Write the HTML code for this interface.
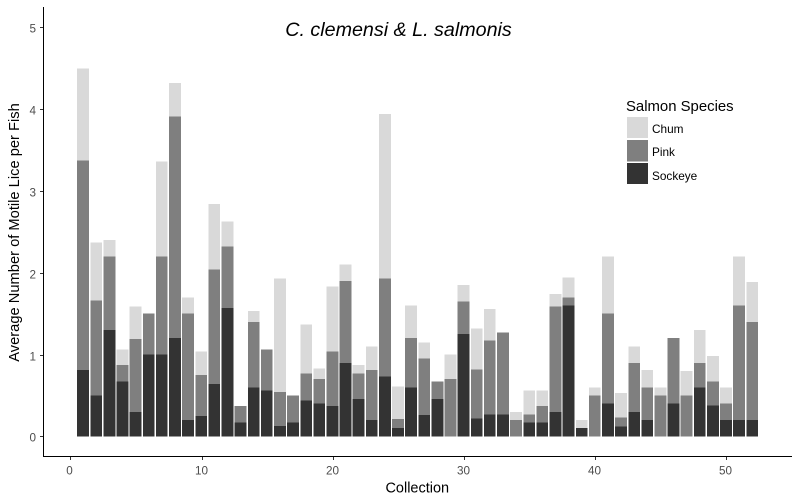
<!DOCTYPE html>
<html>
<head>
<meta charset="utf-8">
<style>
html,body{margin:0;padding:0;background:#fff}
svg{display:block;font-family:"Liberation Sans",Arial,sans-serif}
</style>
</head>
<body>
<svg id="chart" width="800" height="500" viewBox="0 0 800 500" xmlns="http://www.w3.org/2000/svg">
  <rect width="800" height="500" fill="#fff"/>
  <g id="bars" shape-rendering="crispEdges"></g>
  <g id="axes"></g>
  <text x="398.5" y="36" font-size="19.7" font-style="italic" text-anchor="middle" fill="#000">C. clemensi &amp; L. salmonis</text>
  <text x="417.3" y="492.7" font-size="14.5" text-anchor="middle" fill="#000">Collection</text>
  <text transform="translate(19,232.5) rotate(-90)" font-size="14.7" text-anchor="middle" fill="#000">Average Number of Motile Lice per Fish</text>
  <g>
    <text x="626" y="111" font-size="14.9" fill="#000">Salmon Species</text>
    <rect x="627" y="117" width="21" height="21" fill="#d9d9d9" shape-rendering="crispEdges"/>
    <text x="652" y="133" font-size="11.8" fill="#000">Chum</text>
    <rect x="627" y="140" width="21" height="21.5" fill="#7f7f7f" shape-rendering="crispEdges"/>
    <text x="652" y="156" font-size="11.8" fill="#000">Pink</text>
    <rect x="627" y="163" width="21" height="21" fill="#333333" shape-rendering="crispEdges"/>
    <text x="652" y="180" font-size="11.8" fill="#000">Sockeye</text>
  </g>
</svg>
<script>
const sockeye = [0.81,0.5,1.3,0.67,0.3,1,1,1.2,0.2,0.25,0.64,1.57,0.17,0.6,0.56,0.13,0.17,0.44,0.4,0.37,0.9,0.46,0.2,0.73,0.1,0.6,0.26,0.46,0,1.25,0.22,0.27,0.27,0,0.17,0.17,0.3,1.6,0.1,0,0.4,0.12,0.3,0.2,0,0.4,0,0.6,0.38,0.2,0.2,0.2];
const pink = [2.56,1.16,0.9,0.2,0.89,0.5,1.2,2.71,1.3,0.5,1.4,0.75,0.2,0.8,0.5,0.41,0.33,0.33,0.3,0.67,1,0.31,0.61,1.2,0.11,0.6,0.69,0.21,0.7,0.4,0.6,0.9,1,0.2,0.1,0.2,1.29,0.1,0,0.5,1.1,0.11,0.6,0.4,0.5,0.8,0.5,0.3,0.29,0.2,1.4,1.2];
const chum = [1.13,0.71,0.2,0.19,0.4,0,1.16,0.41,0.2,0.29,0.8,0.31,0,0.13,0,1.39,0,0.6,0.13,0.79,0.2,0.1,0.29,2.01,0.4,0.4,0.2,0,0.3,0.2,0.5,0.39,0,0.1,0.29,0.19,0.15,0.24,0.1,0.1,0.7,0.3,0.2,0.21,0.1,0,0.3,0.4,0.31,0.2,0.6,0.49];
const xTicks = [0,10,20,30,40,50];
const yTicks = [0,1,2,3,4,5];

const NS = 'http://www.w3.org/2000/svg';
const xScale = v => 70.3 + v * 13.12;
const yScale = v => 436.4 - v * 81.8;
const BAR_WIDTH = 0.9 * 13.12;
const BAR_SHIFT = -0.3;

const barsGroup = document.getElementById('bars');
const axesGroup = document.getElementById('axes');

function addSegment(collectionIndex, bottom, value, fill, seriesName) {
  if (value <= 0) return;
  const r = document.createElementNS(NS, 'rect');
  const cx = xScale(collectionIndex + 1) + BAR_SHIFT;
  r.setAttribute('x', cx - BAR_WIDTH / 2);
  r.setAttribute('width', BAR_WIDTH);
  r.setAttribute('y', yScale(bottom + value));
  r.setAttribute('height', yScale(bottom) - yScale(bottom + value));
  r.setAttribute('fill', fill);
  
  
  barsGroup.appendChild(r);
}

sockeye.forEach((s, i) => {
  const p = pink[i];
  const c = chum[i];
  addSegment(i, s + p, c, '#d9d9d9', 'chum');
  addSegment(i, s, p, '#7f7f7f', 'pink');
  addSegment(i, 0, s, '#333333', 'sockeye');
});

function addLine(x1, y1, x2, y2, stroke, width, name) {
  const l = document.createElementNS(NS, 'line');
  l.setAttribute('x1', x1);
  l.setAttribute('y1', y1);
  l.setAttribute('x2', x2);
  l.setAttribute('y2', y2);
  l.setAttribute('stroke', stroke);
  l.setAttribute('stroke-width', width);
  l.setAttribute('shape-rendering', 'crispEdges');
  
  
  axesGroup.appendChild(l);
}

function addLabel(x, y, str, anchor, name) {
  const t = document.createElementNS(NS, 'text');
  t.setAttribute('x', x);
  t.setAttribute('y', y);
  t.setAttribute('font-size', '11.7');
  t.setAttribute('fill', '#4d4d4d');
  t.setAttribute('text-anchor', anchor);
  
  
  t.textContent = str;
  axesGroup.appendChild(t);
}

addLine(43.5, 7, 43.5, 457, '#000', 1, 'y-axis-line');
addLine(43, 456.5, 792, 456.5, '#000', 1, 'x-axis-line');

yTicks.forEach(v => {
  const y = Math.round(yScale(v)) + 0.5;
  addLine(40, y, 43, y, '#333', 1, 'y-tick-' + v);
  addLabel(36, y + 5, String(v), 'end', 'y-tick-label-' + v);
});

xTicks.forEach(v => {
  const x = Math.round(xScale(v)) + 0.5;
  addLine(x, 457, x, 460, '#333', 1, 'x-tick-' + v);
  addLabel(x - 1, 474.5, String(v), 'middle', 'x-tick-label-' + v);
});
</script>
</body>
</html>
